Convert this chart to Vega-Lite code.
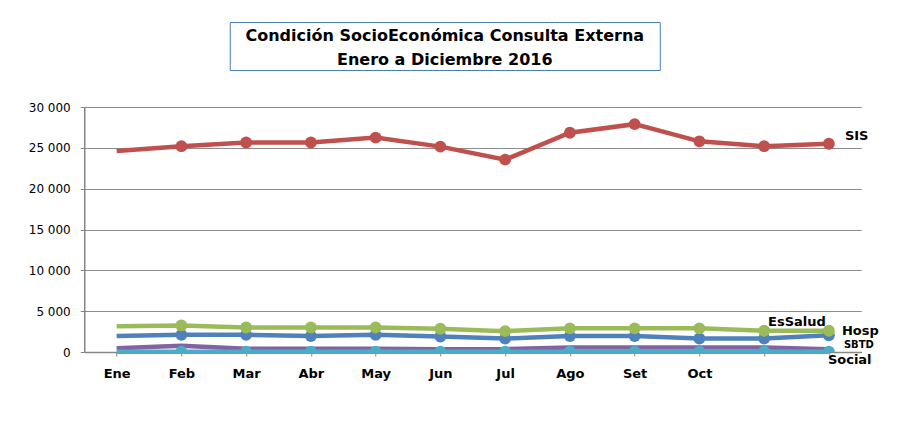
{
  "$schema": "https://vega.github.io/schema/vega-lite/v6.json",
  "background": "white",
  "padding": {"left": 28, "top": 21, "right": 5, "bottom": 5},
  "center": true,
  "spacing": 30,
  "config": {
    "font": "DejaVu Sans",
    "view": {"stroke": null}
  },
  "datasets": {
    "titulo": [
      {"orden": 1, "texto": "Condición SocioEconómica  Consulta Externa"},
      {"orden": 2, "texto": "Enero a Diciembre  2016"}
    ],
    "valores": [
      {"mes": "Ene", "serie": "Hosp", "valor": 1950},
      {"mes": "Feb", "serie": "Hosp", "valor": 2100},
      {"mes": "Mar", "serie": "Hosp", "valor": 2100},
      {"mes": "Abr", "serie": "Hosp", "valor": 1950},
      {"mes": "May", "serie": "Hosp", "valor": 2100},
      {"mes": "Jun", "serie": "Hosp", "valor": 1900},
      {"mes": "Jul", "serie": "Hosp", "valor": 1650},
      {"mes": "Ago", "serie": "Hosp", "valor": 1950},
      {"mes": "Set", "serie": "Hosp", "valor": 1950},
      {"mes": "Oct", "serie": "Hosp", "valor": 1650},
      {"mes": "Nov", "serie": "Hosp", "valor": 1650},
      {"mes": "Dic", "serie": "Hosp", "valor": 2050},
      {"mes": "Ene", "serie": "SIS", "valor": 24600},
      {"mes": "Feb", "serie": "SIS", "valor": 25200},
      {"mes": "Mar", "serie": "SIS", "valor": 25650},
      {"mes": "Abr", "serie": "SIS", "valor": 25650},
      {"mes": "May", "serie": "SIS", "valor": 26250},
      {"mes": "Jun", "serie": "SIS", "valor": 25150},
      {"mes": "Jul", "serie": "SIS", "valor": 23550},
      {"mes": "Ago", "serie": "SIS", "valor": 26850},
      {"mes": "Set", "serie": "SIS", "valor": 27900},
      {"mes": "Oct", "serie": "SIS", "valor": 25800},
      {"mes": "Nov", "serie": "SIS", "valor": 25200},
      {"mes": "Dic", "serie": "SIS", "valor": 25500},
      {"mes": "Ene", "serie": "EsSalud", "valor": 3150},
      {"mes": "Feb", "serie": "EsSalud", "valor": 3250},
      {"mes": "Mar", "serie": "EsSalud", "valor": 3000},
      {"mes": "Abr", "serie": "EsSalud", "valor": 3000},
      {"mes": "May", "serie": "EsSalud", "valor": 3000},
      {"mes": "Jun", "serie": "EsSalud", "valor": 2850},
      {"mes": "Jul", "serie": "EsSalud", "valor": 2550},
      {"mes": "Ago", "serie": "EsSalud", "valor": 2900},
      {"mes": "Set", "serie": "EsSalud", "valor": 2900},
      {"mes": "Oct", "serie": "EsSalud", "valor": 2900},
      {"mes": "Nov", "serie": "EsSalud", "valor": 2600},
      {"mes": "Dic", "serie": "EsSalud", "valor": 2600},
      {"mes": "Ene", "serie": "SBTD", "valor": 450},
      {"mes": "Feb", "serie": "SBTD", "valor": 750},
      {"mes": "Mar", "serie": "SBTD", "valor": 400},
      {"mes": "Abr", "serie": "SBTD", "valor": 400},
      {"mes": "May", "serie": "SBTD", "valor": 400},
      {"mes": "Jun", "serie": "SBTD", "valor": 350},
      {"mes": "Jul", "serie": "SBTD", "valor": 350},
      {"mes": "Ago", "serie": "SBTD", "valor": 550},
      {"mes": "Set", "serie": "SBTD", "valor": 550},
      {"mes": "Oct", "serie": "SBTD", "valor": 550},
      {"mes": "Nov", "serie": "SBTD", "valor": 550},
      {"mes": "Dic", "serie": "SBTD", "valor": 350},
      {"mes": "Ene", "serie": "Social", "valor": 30},
      {"mes": "Feb", "serie": "Social", "valor": 30},
      {"mes": "Mar", "serie": "Social", "valor": 30},
      {"mes": "Abr", "serie": "Social", "valor": 30},
      {"mes": "May", "serie": "Social", "valor": 30},
      {"mes": "Jun", "serie": "Social", "valor": 30},
      {"mes": "Jul", "serie": "Social", "valor": 30},
      {"mes": "Ago", "serie": "Social", "valor": 30},
      {"mes": "Set", "serie": "Social", "valor": 30},
      {"mes": "Oct", "serie": "Social", "valor": 30},
      {"mes": "Nov", "serie": "Social", "valor": 30},
      {"mes": "Dic", "serie": "Social", "valor": 30}
    ]
  },
  "vconcat": [
    {
      "width": 430,
      "height": 48,
      "view": {"stroke": "#4A7EBB", "strokeWidth": 1},
      "data": {"name": "titulo"},
      "mark": {"type": "text", "font": "DejaVu Sans", "fontSize": 16, "fontWeight": "bold", "color": "#000000", "align": "center", "baseline": "middle", "dy": 2},
      "encoding": {
        "y": {
          "field": "orden",
          "type": "ordinal",
          "scale": {"paddingOuter": 0.25},
          "axis": {"orient": "right", "title": null, "labels": false, "ticks": false, "domain": false, "grid": false, "minExtent": 73, "maxExtent": 73}
        },
        "text": {"field": "texto"}
      }
    },
    {
      "width": 777,
      "height": 245,
      "data": {"name": "valores"},
      "encoding": {
        "x": {
          "field": "mes",
          "type": "nominal",
          "sort": ["Ene", "Feb", "Mar", "Abr", "May", "Jun", "Jul", "Ago", "Set", "Oct", "Nov", "Dic"],
          "scale": {"paddingInner": 0, "paddingOuter": 0},
          "axis": {
            "title": null,
            "labelAngle": 0,
            "labelExpr": "datum.value == 'Nov' || datum.value == 'Dic' ? '' : datum.value",
            "labelFont": "DejaVu Sans",
            "labelFontSize": 13,
            "labelFontWeight": "bold",
            "labelColor": "#000000",
            "labelPadding": 11,
            "bandPosition": 0,
            "tickSize": 4,
            "tickColor": "#868686",
            "domainColor": "#868686",
            "domainWidth": 1.5,
            "grid": false
          }
        },
        "y": {
          "field": "valor",
          "type": "quantitative",
          "scale": {"domain": [0, 30000], "nice": false},
          "axis": {
            "title": null,
            "values": [0, 5000, 10000, 15000, 20000, 25000, 30000],
            "labelExpr": "replace(format(datum.value, ','), ',', ' ')",
            "labelFont": "DejaVu Sans",
            "labelFontSize": 12,
            "labelColor": "#000000",
            "labelPadding": 10,
            "tickSize": 4,
            "tickColor": "#868686",
            "domainColor": "#868686",
            "domainWidth": 1.5,
            "gridColor": "#8C8C8C",
            "gridWidth": 1
          }
        },
        "color": {
          "field": "serie",
          "type": "nominal",
          "legend": null,
          "scale": {
            "domain": ["Hosp", "SIS", "EsSalud", "SBTD", "Social"],
            "range": ["#4F81BD", "#C0504D", "#9BBB59", "#8064A2", "#4BACC6"]
          }
        }
      },
      "layer": [
        {
          "mark": {"type": "line", "strokeWidth": 4.5}
        },
        {
          "transform": [{"filter": "datum.mes != 'Ene' && datum.serie != 'SBTD'"}],
          "mark": {"type": "point", "shape": "circle", "filled": true, "opacity": 1, "size": 140, "clip": true}
        },
        {
          "transform": [{"filter": "datum.mes == 'Dic' && datum.serie == 'SIS'"}],
          "mark": {"type": "text", "align": "left", "baseline": "middle", "dx": 16, "dy": -8, "fontSize": 13, "fontWeight": "bold"},
          "encoding": {"text": {"field": "serie"}, "color": {"value": "#000000"}}
        },
        {
          "transform": [{"filter": "datum.mes == 'Dic' && datum.serie == 'EsSalud'"}],
          "mark": {"type": "text", "align": "right", "baseline": "middle", "dx": -3, "dy": -9, "fontSize": 13, "fontWeight": "bold"},
          "encoding": {"text": {"field": "serie"}, "color": {"value": "#000000"}}
        },
        {
          "transform": [{"filter": "datum.mes == 'Dic' && datum.serie == 'Hosp'"}],
          "mark": {"type": "text", "align": "left", "baseline": "middle", "dx": 13, "dy": -4, "fontSize": 13, "fontWeight": "bold"},
          "encoding": {"text": {"field": "serie"}, "color": {"value": "#000000"}}
        },
        {
          "transform": [{"filter": "datum.mes == 'Dic' && datum.serie == 'SBTD'"}],
          "mark": {"type": "text", "align": "left", "baseline": "middle", "dx": 15, "dy": -4, "fontSize": 10, "fontWeight": "bold"},
          "encoding": {"text": {"field": "serie"}, "color": {"value": "#000000"}}
        },
        {
          "transform": [{"filter": "datum.mes == 'Dic' && datum.serie == 'Social'"}],
          "mark": {"type": "text", "align": "left", "baseline": "middle", "dx": -1, "dy": 8, "fontSize": 13, "fontWeight": "bold"},
          "encoding": {"text": {"field": "serie"}, "color": {"value": "#000000"}}
        }
      ]
    }
  ]
}
